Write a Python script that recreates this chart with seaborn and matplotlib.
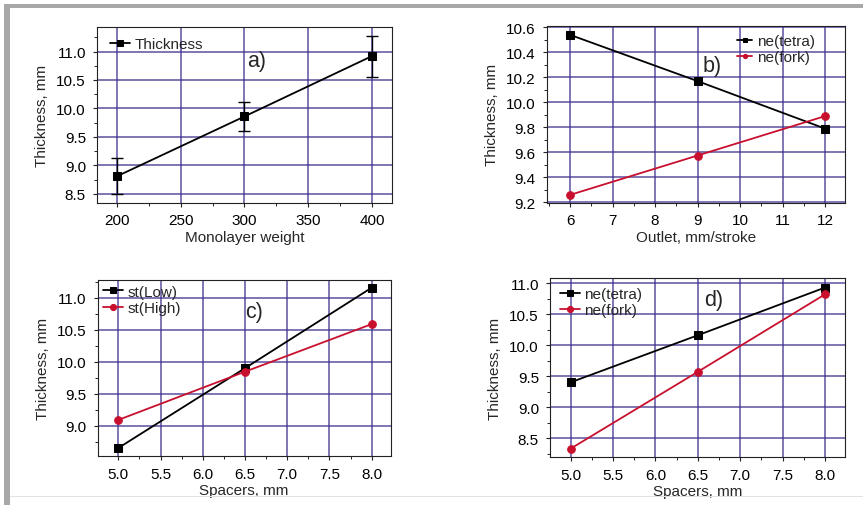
import numpy as np
import pandas as pd
import seaborn as sns
import matplotlib
matplotlib.use("Agg")
import matplotlib.pyplot as plt
from matplotlib.patches import Rectangle
from matplotlib.ticker import MultipleLocator, AutoMinorLocator, FormatStrFormatter

# ---------------- data ----------------
# a) thickness vs monolayer weight
a_x = [200, 300, 400]
a_thick = [8.81, 9.86, 10.92]
a_err = [0.32, 0.25, 0.36]

# b) thickness vs outlet
b_x = [6, 9, 12]
b_tetra = [10.54, 10.17, 9.79]
b_fork = [9.26, 9.575, 9.89]

# c) thickness vs spacers (st)
c_x = [5.0, 6.5, 8.0]
c_low = [8.65, 9.90, 11.16]
c_high = [9.09, 9.845, 10.59]

# d) thickness vs spacers (ne)
d_x = [5.0, 6.5, 8.0]
d_tetra = [9.40, 10.16, 10.93]
d_fork = [8.33, 9.57, 10.82]

# ---------------- style ----------------
sns.set_theme(style="white")
plt.rcParams['font.family'] = ['Liberation Sans', 'DejaVu Sans']

BLACK = '#000000'
RED = '#c8102e'
GRID = '#3d3290'
TICK_FS = 11
LABEL_FS = 11
LEG_FS = 11
LET_FS = 15.5
LW = 1.3
SQ = 6
CI = 5.5

fig = plt.figure(figsize=(8.63, 5.06), dpi=100)
fig.patch.set_facecolor('white')

# decorative frame of the page
fig.patches.append(Rectangle((4/863, 0), 6/863, 1 - 5/506, transform=fig.transFigure,
                             facecolor='#a8a8a8', edgecolor='none', zorder=0))
fig.patches.append(Rectangle((4/863, 1 - 9/506), 1, 4/506, transform=fig.transFigure,
                             facecolor='#a8a8a8', edgecolor='none', zorder=0))
fig.patches.append(Rectangle((10/863, 8/506), 1, 1/506, transform=fig.transFigure,
                             facecolor='#e2e2e2', edgecolor='none', zorder=0))

ax_a = fig.add_axes([0.1124, 0.5968, 0.3418, 0.3478])
ax_b = fig.add_axes([0.6335, 0.5968, 0.3457, 0.3504])
ax_c = fig.add_axes([0.1132, 0.0962, 0.3395, 0.3484])
ax_d = fig.add_axes([0.6373, 0.0943, 0.3418, 0.3538])


def style_axes(ax, xmaj, ymaj, xlim, ylim, xlabel, xminor=2, yminor=2, fmt_x=None, fmt_y=None):
    ax.set_xlim(*xlim)
    ax.set_ylim(*ylim)
    ax.xaxis.set_major_locator(MultipleLocator(xmaj))
    ax.yaxis.set_major_locator(MultipleLocator(ymaj))
    ax.xaxis.set_minor_locator(AutoMinorLocator(xminor))
    ax.yaxis.set_minor_locator(AutoMinorLocator(yminor))
    if fmt_x:
        ax.xaxis.set_major_formatter(fmt_x)
    if fmt_y:
        ax.yaxis.set_major_formatter(fmt_y)
    ax.grid(True, which='major', color=GRID, linewidth=1.1, alpha=0.85, zorder=0)
    ax.set_axisbelow(True)
    ax.tick_params(which='major', direction='out', length=3, width=0.8, labelsize=TICK_FS,
                   bottom=True, left=True, colors='#222222', labelcolor='black')
    ax.tick_params(axis='x', which='major', pad=4.5)
    ax.tick_params(axis='y', which='major', pad=5)
    ax.tick_params(which='minor', direction='out', length=2, width=0.7,
                   bottom=True, left=True, colors='#222222')
    for s in ax.spines.values():
        s.set_visible(True)
        s.set_color('#222222')
        s.set_linewidth(0.8)
    ax.set_xlabel(xlabel, fontsize=LABEL_FS, labelpad=1.5)
    ax.set_ylabel('Thickness, mm', fontsize=LABEL_FS, labelpad=5)


def leg(ax, anchor, small=False):
    ax.legend(loc='upper left', bbox_to_anchor=anchor, frameon=False, fontsize=LEG_FS,
              handlelength=1.0 if small else 1.3, handletextpad=0.3, borderpad=0,
              borderaxespad=0, labelspacing=0.15, markerscale=0.55 if small else 0.8)


# ---- a ----
sns.lineplot(x=a_x, y=a_thick, ax=ax_a, color=BLACK, marker='s', markersize=SQ,
             markeredgecolor=BLACK, linewidth=LW, label='Thickness', zorder=3)
ax_a.errorbar(a_x, a_thick, yerr=a_err, fmt='none', ecolor=BLACK, elinewidth=1.0,
              capsize=4, capthick=1.0, zorder=3)
style_axes(ax_a, 50, 0.5, (184.3, 415.7), (8.34, 11.43), 'Monolayer weight',
           fmt_y=FormatStrFormatter('%.1f'))
leg(ax_a, (0.044, 0.943))
ax_a.text(0.542, 0.807, 'a)', transform=ax_a.transAxes, fontsize=LET_FS,
          ha='center', va='center')

# ---- b ----
sns.lineplot(x=b_x, y=b_tetra, ax=ax_b, color=BLACK, marker='s', markersize=SQ,
             markeredgecolor=BLACK, linewidth=LW, label='ne(tetra)', zorder=3)
sns.lineplot(x=b_x, y=b_fork, ax=ax_b, color=RED, marker='o', markersize=CI,
             markeredgecolor=RED, linewidth=LW, label='ne(fork)', zorder=3)
style_axes(ax_b, 1, 0.2, (5.45, 12.47), (9.195, 10.613), 'Outlet, mm/stroke',
           fmt_y=FormatStrFormatter('%.1f'))
leg(ax_b, (0.638, 0.953), small=True)
ax_b.text(0.554, 0.773, 'b)', transform=ax_b.transAxes, fontsize=LET_FS,
          ha='center', va='center')

# ---- c ----
sns.lineplot(x=c_x, y=c_low, ax=ax_c, color=BLACK, marker='s', markersize=SQ,
             markeredgecolor=BLACK, linewidth=LW, label='st(Low)', zorder=3)
sns.lineplot(x=c_x, y=c_high, ax=ax_c, color=RED, marker='o', markersize=CI,
             markeredgecolor=RED, linewidth=LW, label='st(High)', zorder=3)
style_axes(ax_c, 0.5, 0.5, (4.756, 8.225), (8.52, 11.28), 'Spacers, mm',
           fmt_x=FormatStrFormatter('%.1f'), fmt_y=FormatStrFormatter('%.1f'))
leg(ax_c, (0.018, 0.973))
ax_c.text(0.533, 0.824, 'c)', transform=ax_c.transAxes, fontsize=LET_FS,
          ha='center', va='center')

# ---- d ----
sns.lineplot(x=d_x, y=d_tetra, ax=ax_d, color=BLACK, marker='s', markersize=SQ,
             markeredgecolor=BLACK, linewidth=LW, label='ne(tetra)', zorder=3)
sns.lineplot(x=d_x, y=d_fork, ax=ax_d, color=RED, marker='o', markersize=CI,
             markeredgecolor=RED, linewidth=LW, label='ne(fork)', zorder=3)
style_axes(ax_d, 0.5, 0.5, (4.756, 8.236), (8.19, 11.08), 'Spacers, mm',
           fmt_x=FormatStrFormatter('%.1f'), fmt_y=FormatStrFormatter('%.1f'))
leg(ax_d, (0.034, 0.951))
ax_d.text(0.556, 0.884, 'd)', transform=ax_d.transAxes, fontsize=LET_FS,
          ha='center', va='center')

fig.savefig('out.png', dpi=100)
